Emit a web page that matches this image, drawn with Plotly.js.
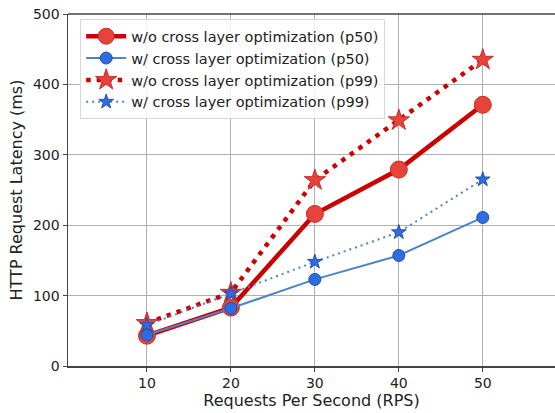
<!DOCTYPE html>
<html>
<head>
<meta charset="utf-8">
<script src="https://cdn.plot.ly/plotly-3.0.1.min.js"></script>
<style>html,body{margin:0;padding:0;background:#fff;}#chart{width:555px;height:413px;}</style>
</head>
<body>
<div id="chart"></div>
<script>
const rps = [10, 20, 30, 40, 50];
const woP50 = [43, 83, 216, 279, 371];
const wP50 = [44, 82, 123, 157, 211];
const woP99 = [61, 104, 264, 349, 435];
const wP99 = [58, 103, 148, 190, 265];
const names = [
  'w/o cross layer optimization (p50)',
  'w/ cross layer optimization (p50)',
  'w/o cross layer optimization (p99)',
  'w/ cross layer optimization (p99)'
];

const red = '#cc0000', redFill = '#e8423a', redEdge = '#c0302a';
const blue = '#4f83c8', blueFill = '#2d6de0', blueEdge = '#1f4fb0';

const traces = [
  {x: rps, y: woP50, name: names[0], mode: 'lines+markers',
   line: {color: red, width: 4.5},
   marker: {symbol: 'circle', size: 17, color: redFill, line: {color: redEdge, width: 1}}},
  {x: rps, y: wP50, name: names[1], mode: 'lines+markers',
   line: {color: blue, width: 2},
   marker: {symbol: 'circle', size: 12, color: blueFill, line: {color: blueEdge, width: 1}}},
  {x: rps, y: woP99, name: names[2], mode: 'lines+markers',
   line: {color: red, width: 4.5, dash: '4.5px,6px'},
   marker: {symbol: 'star', size: 16, color: redFill, line: {color: redEdge, width: 1}}},
  {x: rps, y: wP99, name: names[3], mode: 'lines+markers',
   line: {color: blue, width: 2, dash: '2px,4px'},
   marker: {symbol: 'star', size: 11, color: blueFill, line: {color: blueEdge, width: 1}}}
];

const layout = {
  width: 555, height: 413,
  margin: {l: 68, r: 0, t: 14, b: 47},
  paper_bgcolor: '#fff', plot_bgcolor: '#fff',
  font: {family: 'DejaVu Sans', size: 14, color: '#222'},
  showlegend: true,
  legend: {x: 0.025, y: 0.985, xanchor: 'left', yanchor: 'top',
    bgcolor: 'rgba(255,255,255,0.85)', bordercolor: '#d8d8d8', borderwidth: 1,
    font: {family: 'DejaVu Sans', size: 14.5, color: '#222'}, tracegroupgap: 0, itemwidth: 40},
  xaxis: {
    range: [0.6, 58.6], tickvals: rps, ticktext: rps.map(String),
    showgrid: true, gridcolor: '#b0b0b0', gridwidth: 1,
    showline: true, linecolor: '#444', linewidth: 1.5,
    ticks: 'outside', ticklen: 4, tickcolor: '#444', zeroline: false,
    tickfont: {size: 14},
    title: {text: 'Requests Per Second (RPS)', font: {size: 16}, standoff: 4}
  },
  yaxis: {
    range: [0, 500], tickvals: [0, 100, 200, 300, 400, 500],
    showgrid: true, gridcolor: '#b0b0b0', gridwidth: 1,
    showline: true, linecolor: '#444', linewidth: 1.5,
    ticks: 'outside', ticklen: 4, tickcolor: '#444', zeroline: false,
    tickfont: {size: 14},
    title: {text: 'HTTP Request Latency (ms)', font: {size: 16}, standoff: 6}
  },
  shapes: [{type: 'line', xref: 'paper', yref: 'paper', x0: 0, x1: 1, y0: 1, y1: 1,
    line: {color: '#444', width: 1.5}}]
};

Plotly.newPlot('chart', traces, layout, {displayModeBar: false, staticPlot: true});
</script>
</body>
</html>
